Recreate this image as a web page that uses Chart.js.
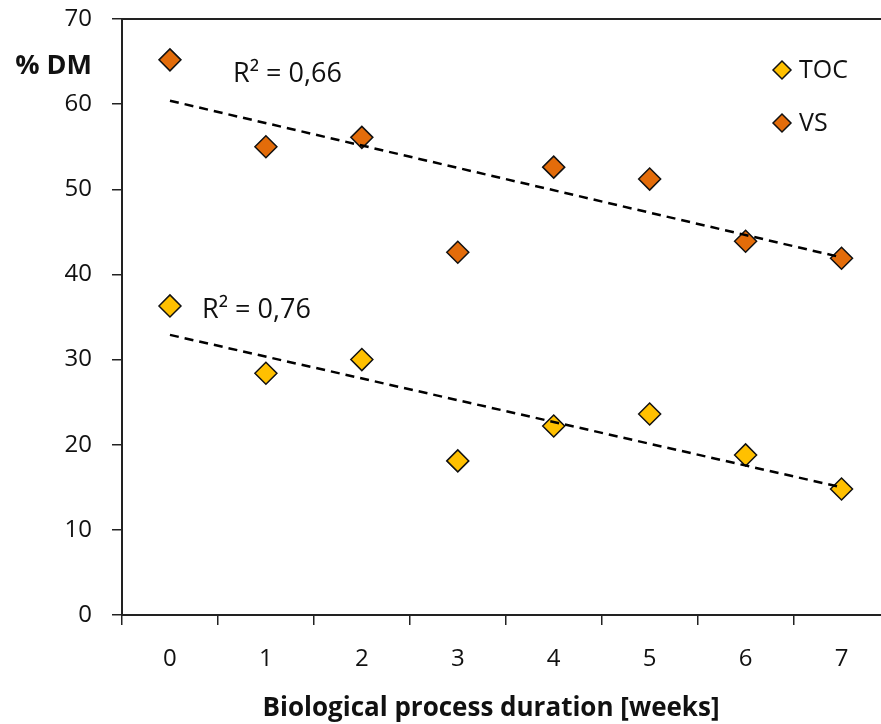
<!DOCTYPE html>
<html>
<head>
<meta charset="utf-8">
<script src="https://cdn.jsdelivr.net/npm/chart.js@4"></script>
<style>
  html, body { margin: 0; padding: 0; background: #fff; overflow: hidden; }
  #wrap { width: 902px; height: 724px; }
</style>
</head>
<body>
<div id="wrap"><canvas id="chart" width="902" height="724"></canvas></div>
<script>
// weeks of biological processing
const weeks = ['0', '1', '2', '3', '4', '5', '6', '7'];

// % of dry matter
const tocValues = [36.3, 28.4, 30.0, 18.1, 22.2, 23.6, 18.8, 14.8];
const vsValues  = [65.2, 55.0, 56.1, 42.6, 52.6, 51.2, 43.9, 41.9];

// linear trend end points
const tocTrend = [32.9, null, null, null, null, null, null, 15.0];
const vsTrend  = [60.4, null, null, null, null, null, null, 42.0];

const yTicks = [0, 10, 20, 30, 40, 50, 60, 70];

const FONT = "'Open Sans', sans-serif";
const AXIS = '#222';
const TOC_FILL = '#FFC000';
const VS_FILL = '#E36C0A';

// labels, R² notes, legend and top frame line
const decorations = {
    id: 'decorations',
    afterDraw(chart) {
        const { ctx, chartArea } = chart;
        ctx.save();

        // top frame line
        ctx.strokeStyle = AXIS;
        ctx.lineWidth = 2;
        ctx.beginPath();
        ctx.moveTo(chartArea.left, chartArea.top);
        ctx.lineTo(chartArea.right, chartArea.top);
        ctx.stroke();

        ctx.fillStyle = '#111';
        ctx.textBaseline = 'alphabetic';

        // y title
        ctx.font = `bold 27px ${FONT}`;
        ctx.textAlign = 'right';
        ctx.fillText('% DM', 92, 74);

        // x title
        ctx.textAlign = 'center';
        ctx.font = `bold 26px ${FONT}`;
        ctx.fillText('Biological process duration [weeks]', 491, 716);

        // R² notes
        ctx.textAlign = 'left';
        ctx.font = `27px ${FONT}`;
        ctx.fillText('R² = 0,66', 233, 82);
        ctx.fillText('R² = 0,76', 202, 318);

        // legend
        const items = [['TOC', TOC_FILL, 70], ['VS', VS_FILL, 123]];
        ctx.font = `25px ${FONT}`;
        ctx.textBaseline = 'middle';
        items.forEach(([label, fill, y]) => {
            const x = 782, r = 9;
            ctx.beginPath();
            ctx.moveTo(x - r, y);
            ctx.lineTo(x, y - r);
            ctx.lineTo(x + r, y);
            ctx.lineTo(x, y + r);
            ctx.closePath();
            ctx.fillStyle = fill;
            ctx.fill();
            ctx.lineWidth = 1.5;
            ctx.strokeStyle = '#111';
            ctx.stroke();
            ctx.fillStyle = '#111';
            ctx.fillText(label, 799, y + 1);
        });

        ctx.restore();
    }
};

function pointSet(label, values, fill) {
    return {
        label: label,
        data: values,
        showLine: false,
        pointStyle: 'rectRot',
        pointRadius: 11,
        pointBackgroundColor: fill,
        pointBorderColor: '#111',
        pointBorderWidth: 1.5,
        order: 2
    };
}

function trendSet(values) {
    return {
        data: values,
        spanGaps: true,
        borderColor: '#000',
        borderWidth: 2.5,
        borderDash: [9, 6],
        pointRadius: 0,
        fill: false,
        order: 1
    };
}

new Chart(document.getElementById('chart'), {
    type: 'line',
    data: {
        labels: weeks,
        datasets: [
            pointSet('TOC', tocValues, TOC_FILL),
            pointSet('VS', vsValues, VS_FILL),
            trendSet(tocTrend),
            trendSet(vsTrend)
        ]
    },
    options: {
        responsive: false,
        animation: false,
        devicePixelRatio: 1,
        layout: { padding: { top: 19, right: 3, left: 0, bottom: 0 } },
        plugins: {
            legend: { display: false },
            tooltip: { enabled: false }
        },
        scales: {
            x: {
                type: 'category',
                offset: true,
                grid: {
                    offset: true,
                    drawOnChartArea: false,
                    tickLength: 10,
                    color: AXIS,
                    lineWidth: 1.5
                },
                border: { color: AXIS, width: 2 },
                ticks: {
                    color: '#111',
                    font: { family: FONT, size: 24 },
                    padding: 20
                },
                afterFit(scale) {
                    scale.height = 109;
                    scale.paddingLeft = 0;
                    scale.paddingRight = 0;
                }
            },
            y: {
                min: 0,
                max: 70,
                afterBuildTicks(scale) { scale.ticks = yTicks.map(v => ({ value: v })); },
                grid: {
                    drawOnChartArea: false,
                    tickLength: 10,
                    color: AXIS,
                    lineWidth: 1.5
                },
                border: { color: AXIS, width: 2 },
                ticks: {
                    color: '#111',
                    font: { family: FONT, size: 24 },
                    padding: 20
                },
                afterFit(scale) {
                    scale.width = 122;
                    scale.paddingTop = 0;
                    scale.paddingBottom = 0;
                }
            }
        }
    },
    plugins: [decorations]
});
</script>
</body>
</html>
